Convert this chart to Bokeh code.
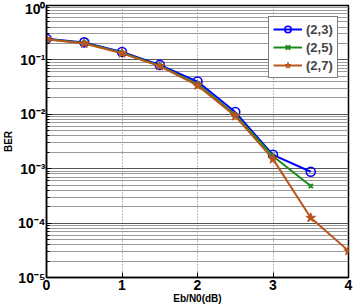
from bokeh.plotting import figure
from bokeh.models import (Legend, LegendItem, CustomJSTickFormatter, FixedTicker, Range1d)
from bokeh.embed import file_html
from bokeh.resources import INLINE

# Eb/N0 sweep (dB) and measured bit error rates per code
ebn0 = [0, 0.5, 1, 1.5, 2, 2.5, 3, 3.5, 4]
ber_23 = [0.245, 0.21, 0.14, 0.081, 0.040, 0.011, 0.0018, 0.00088]
ber_25 = [0.24, 0.205, 0.135, 0.078, 0.036, 0.0098, 0.0017, 0.00048]
ber_27 = [0.24, 0.20, 0.132, 0.077, 0.034, 0.0093, 0.0015, 0.000125, 0.000031]
labels = ["(2,3)", "(2,5)", "(2,7)"]
x_ticks = [0, 1, 2, 3, 4]
y_ticks = [1e-5, 1e-4, 1e-3, 1e-2, 1e-1, 1]

FONT = "Liberation Sans"
BLUE = "#0000ff"
GREEN = "#1a8a1a"
BROWN = "#b8561c"

p = figure(width=356, height=306, y_axis_type="log",
           x_range=Range1d(0, 4), y_range=Range1d(1e-5, 1),
           output_backend="svg", toolbar_location=None,
           min_border_left=45, min_border_right=8,
           min_border_top=5, min_border_bottom=29)
p.background_fill_color = "white"
p.border_fill_color = "white"
p.outline_line_color = "black"
p.outline_line_width = 1.5

# powers of ten written with superscript exponents
sup = CustomJSTickFormatter(code="""
const m = {'-':'\u207b','0':'\u2070','1':'\u00b9','2':'\u00b2','3':'\u00b3',
           '4':'\u2074','5':'\u2075','6':'\u2076','7':'\u2077','8':'\u2078','9':'\u2079'};
const e = Math.round(Math.log10(tick)).toString();
return '10' + e.split('').map(c => m[c]).join('');
""")

yax = p.yaxis[0]
yax.ticker = FixedTicker(ticks=y_ticks, minor_ticks=[m * 10.0 ** k for k in range(-5, 0) for m in range(2, 10)])
yax.formatter = sup
yax.axis_label = "BER"
xax = p.xaxis[0]
xax.ticker = FixedTicker(ticks=x_ticks)
xax.axis_label = "Eb/N0(dB)"

for ax in (xax, yax):
    ax.axis_line_color = "black"
    ax.axis_line_width = 1.5
    ax.major_tick_in = 5
    ax.major_tick_out = 0
    ax.minor_tick_in = 3
    ax.minor_tick_out = 0
    ax.major_label_text_font = FONT
    ax.major_label_text_font_style = "bold"
    ax.major_label_text_font_size = "14px"
    ax.major_label_text_color = "black"
    ax.axis_label_text_font = FONT
    ax.axis_label_text_font_style = "bold"
    ax.axis_label_text_font_size = "10px"
    ax.axis_label_text_color = "black"
xax.major_label_standoff = 2
xax.axis_label_standoff = 0
yax.major_label_standoff = 1
yax.axis_label_standoff = 1

p.ygrid.grid_line_color = "#555555"
p.ygrid.grid_line_width = 1
p.ygrid.minor_grid_line_color = "#9a9a9a"
p.ygrid.minor_grid_line_width = 1
p.xgrid.grid_line_color = "#777777"
p.xgrid.grid_line_dash = "1 2"

r1 = p.line(ebn0[:len(ber_23)], ber_23, line_color=BLUE, line_width=2)
m1 = p.scatter(ebn0[:len(ber_23)], ber_23, marker="circle", size=9,
               line_color=BLUE, line_width=1.6, fill_color=None)
r2 = p.line(ebn0[:len(ber_25)], ber_25, line_color=GREEN, line_width=2)
m2 = p.scatter(ebn0[:len(ber_25)], ber_25, marker="x", size=6,
               line_color=GREEN, line_width=2)
r3 = p.line(ebn0[:len(ber_27)], ber_27, line_color=BROWN, line_width=2)
m3 = p.scatter(ebn0[:len(ber_27)], ber_27, marker="star", size=10,
               line_color=BROWN, fill_color=BROWN, line_width=1)

legend = Legend(items=[LegendItem(label=labels[0], renderers=[r1, m1]),
                       LegendItem(label=labels[1], renderers=[r2, m2]),
                       LegendItem(label=labels[2], renderers=[r3, m3])],
                location=(222, 199))
legend.border_line_color = "black"
legend.border_line_width = 1.5
legend.background_fill_alpha = 1
legend.label_text_font = FONT
legend.label_text_font_style = "bold"
legend.label_text_font_size = "13px"
legend.glyph_width = 29
legend.glyph_height = 16
legend.label_height = 16
legend.spacing = 2
legend.padding = 4
legend.margin = 0
legend.label_standoff = 4
p.add_layout(legend)

open("out.html", "w").write(file_html(p, INLINE))
